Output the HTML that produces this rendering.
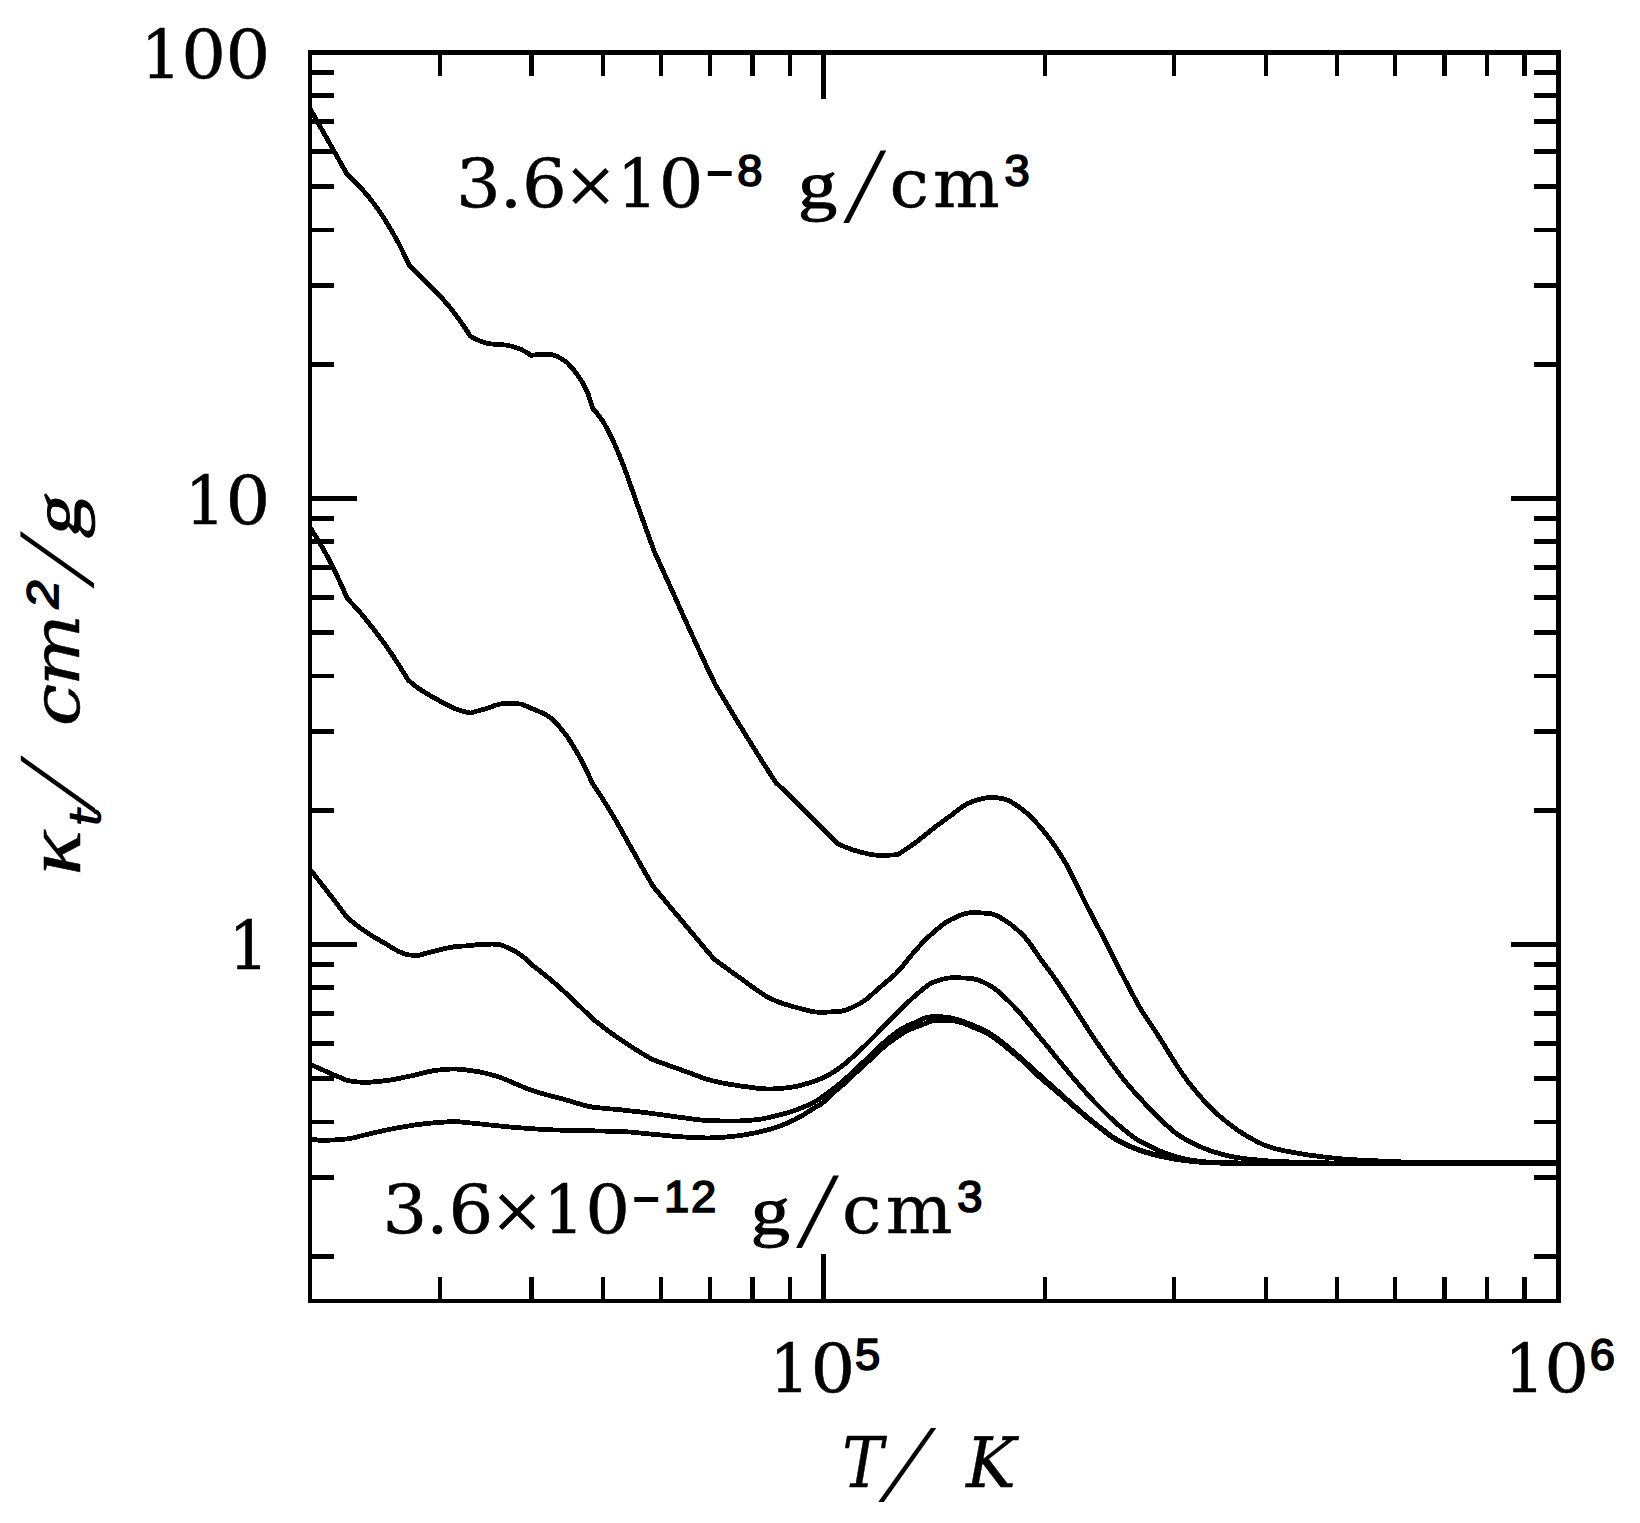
<!DOCTYPE html>
<html><head><meta charset="utf-8"><title>opacity</title>
<style>html,body{margin:0;padding:0;background:#fff}svg{display:block}text{fill:#000}</style></head>
<body><svg width="1640" height="1523" viewBox="0 0 1640 1523">
<rect width="1640" height="1523" fill="#fff"/>
<g stroke="#000" fill="none" stroke-linecap="butt" shape-rendering="crispEdges">
<line x1="308.10" y1="52.50" x2="1560.60" y2="52.50" stroke-width="4.4"/>
<line x1="308.10" y1="1300.70" x2="1560.60" y2="1300.70" stroke-width="4.3"/>
<line x1="310.20" y1="52.50" x2="310.20" y2="1300.70" stroke-width="4.2"/>
<line x1="1558.50" y1="52.50" x2="1558.50" y2="1300.70" stroke-width="4.5"/>
<line x1="439.76" y1="1300.70" x2="439.76" y2="1277.10" stroke-width="4.2"/>
<line x1="439.76" y1="52.50" x2="439.76" y2="76.10" stroke-width="4.2"/>
<line x1="531.51" y1="1300.70" x2="531.51" y2="1277.10" stroke-width="4.2"/>
<line x1="531.51" y1="52.50" x2="531.51" y2="76.10" stroke-width="4.2"/>
<line x1="602.68" y1="1300.70" x2="602.68" y2="1277.10" stroke-width="4.2"/>
<line x1="602.68" y1="52.50" x2="602.68" y2="76.10" stroke-width="4.2"/>
<line x1="660.83" y1="1300.70" x2="660.83" y2="1277.10" stroke-width="4.2"/>
<line x1="660.83" y1="52.50" x2="660.83" y2="76.10" stroke-width="4.2"/>
<line x1="710.00" y1="1300.70" x2="710.00" y2="1277.10" stroke-width="4.2"/>
<line x1="710.00" y1="52.50" x2="710.00" y2="76.10" stroke-width="4.2"/>
<line x1="752.59" y1="1300.70" x2="752.59" y2="1277.10" stroke-width="4.2"/>
<line x1="752.59" y1="52.50" x2="752.59" y2="76.10" stroke-width="4.2"/>
<line x1="790.16" y1="1300.70" x2="790.16" y2="1277.10" stroke-width="4.2"/>
<line x1="790.16" y1="52.50" x2="790.16" y2="76.10" stroke-width="4.2"/>
<line x1="823.76" y1="1300.70" x2="823.76" y2="1253.90" stroke-width="4.8"/>
<line x1="823.76" y1="52.50" x2="823.76" y2="99.30" stroke-width="4.8"/>
<line x1="1044.84" y1="1300.70" x2="1044.84" y2="1277.10" stroke-width="4.2"/>
<line x1="1044.84" y1="52.50" x2="1044.84" y2="76.10" stroke-width="4.2"/>
<line x1="1174.16" y1="1300.70" x2="1174.16" y2="1277.10" stroke-width="4.2"/>
<line x1="1174.16" y1="52.50" x2="1174.16" y2="76.10" stroke-width="4.2"/>
<line x1="1265.91" y1="1300.70" x2="1265.91" y2="1277.10" stroke-width="4.2"/>
<line x1="1265.91" y1="52.50" x2="1265.91" y2="76.10" stroke-width="4.2"/>
<line x1="1337.08" y1="1300.70" x2="1337.08" y2="1277.10" stroke-width="4.2"/>
<line x1="1337.08" y1="52.50" x2="1337.08" y2="76.10" stroke-width="4.2"/>
<line x1="1395.23" y1="1300.70" x2="1395.23" y2="1277.10" stroke-width="4.2"/>
<line x1="1395.23" y1="52.50" x2="1395.23" y2="76.10" stroke-width="4.2"/>
<line x1="1444.40" y1="1300.70" x2="1444.40" y2="1277.10" stroke-width="4.2"/>
<line x1="1444.40" y1="52.50" x2="1444.40" y2="76.10" stroke-width="4.2"/>
<line x1="1486.99" y1="1300.70" x2="1486.99" y2="1277.10" stroke-width="4.2"/>
<line x1="1486.99" y1="52.50" x2="1486.99" y2="76.10" stroke-width="4.2"/>
<line x1="1524.56" y1="1300.70" x2="1524.56" y2="1277.10" stroke-width="4.2"/>
<line x1="1524.56" y1="52.50" x2="1524.56" y2="76.10" stroke-width="4.2"/>
<line x1="310.20" y1="1256.19" x2="333.80" y2="1256.19" stroke-width="4.8"/>
<line x1="1558.50" y1="1256.19" x2="1534.10" y2="1256.19" stroke-width="4.8"/>
<line x1="310.20" y1="1177.65" x2="333.80" y2="1177.65" stroke-width="4.8"/>
<line x1="1558.50" y1="1177.65" x2="1534.10" y2="1177.65" stroke-width="4.8"/>
<line x1="310.20" y1="1121.93" x2="333.80" y2="1121.93" stroke-width="4.8"/>
<line x1="1558.50" y1="1121.93" x2="1534.10" y2="1121.93" stroke-width="4.8"/>
<line x1="310.20" y1="1078.71" x2="333.80" y2="1078.71" stroke-width="4.8"/>
<line x1="1558.50" y1="1078.71" x2="1534.10" y2="1078.71" stroke-width="4.8"/>
<line x1="310.20" y1="1043.39" x2="333.80" y2="1043.39" stroke-width="4.8"/>
<line x1="1558.50" y1="1043.39" x2="1534.10" y2="1043.39" stroke-width="4.8"/>
<line x1="310.20" y1="1013.54" x2="333.80" y2="1013.54" stroke-width="4.8"/>
<line x1="1558.50" y1="1013.54" x2="1534.10" y2="1013.54" stroke-width="4.8"/>
<line x1="310.20" y1="987.67" x2="333.80" y2="987.67" stroke-width="4.8"/>
<line x1="1558.50" y1="987.67" x2="1534.10" y2="987.67" stroke-width="4.8"/>
<line x1="310.20" y1="964.86" x2="333.80" y2="964.86" stroke-width="4.8"/>
<line x1="1558.50" y1="964.86" x2="1534.10" y2="964.86" stroke-width="4.8"/>
<line x1="310.20" y1="944.45" x2="357.00" y2="944.45" stroke-width="4.8"/>
<line x1="1558.50" y1="944.45" x2="1510.90" y2="944.45" stroke-width="4.8"/>
<line x1="310.20" y1="810.19" x2="333.80" y2="810.19" stroke-width="4.8"/>
<line x1="1558.50" y1="810.19" x2="1534.10" y2="810.19" stroke-width="4.8"/>
<line x1="310.20" y1="731.65" x2="333.80" y2="731.65" stroke-width="4.8"/>
<line x1="1558.50" y1="731.65" x2="1534.10" y2="731.65" stroke-width="4.8"/>
<line x1="310.20" y1="675.93" x2="333.80" y2="675.93" stroke-width="4.8"/>
<line x1="1558.50" y1="675.93" x2="1534.10" y2="675.93" stroke-width="4.8"/>
<line x1="310.20" y1="632.71" x2="333.80" y2="632.71" stroke-width="4.8"/>
<line x1="1558.50" y1="632.71" x2="1534.10" y2="632.71" stroke-width="4.8"/>
<line x1="310.20" y1="597.39" x2="333.80" y2="597.39" stroke-width="4.8"/>
<line x1="1558.50" y1="597.39" x2="1534.10" y2="597.39" stroke-width="4.8"/>
<line x1="310.20" y1="567.54" x2="333.80" y2="567.54" stroke-width="4.8"/>
<line x1="1558.50" y1="567.54" x2="1534.10" y2="567.54" stroke-width="4.8"/>
<line x1="310.20" y1="541.67" x2="333.80" y2="541.67" stroke-width="4.8"/>
<line x1="1558.50" y1="541.67" x2="1534.10" y2="541.67" stroke-width="4.8"/>
<line x1="310.20" y1="518.86" x2="333.80" y2="518.86" stroke-width="4.8"/>
<line x1="1558.50" y1="518.86" x2="1534.10" y2="518.86" stroke-width="4.8"/>
<line x1="310.20" y1="498.45" x2="357.00" y2="498.45" stroke-width="4.8"/>
<line x1="1558.50" y1="498.45" x2="1510.90" y2="498.45" stroke-width="4.8"/>
<line x1="310.20" y1="364.19" x2="333.80" y2="364.19" stroke-width="4.8"/>
<line x1="1558.50" y1="364.19" x2="1534.10" y2="364.19" stroke-width="4.8"/>
<line x1="310.20" y1="285.65" x2="333.80" y2="285.65" stroke-width="4.8"/>
<line x1="1558.50" y1="285.65" x2="1534.10" y2="285.65" stroke-width="4.8"/>
<line x1="310.20" y1="229.93" x2="333.80" y2="229.93" stroke-width="4.8"/>
<line x1="1558.50" y1="229.93" x2="1534.10" y2="229.93" stroke-width="4.8"/>
<line x1="310.20" y1="186.71" x2="333.80" y2="186.71" stroke-width="4.8"/>
<line x1="1558.50" y1="186.71" x2="1534.10" y2="186.71" stroke-width="4.8"/>
<line x1="310.20" y1="151.39" x2="333.80" y2="151.39" stroke-width="4.8"/>
<line x1="1558.50" y1="151.39" x2="1534.10" y2="151.39" stroke-width="4.8"/>
<line x1="310.20" y1="121.54" x2="333.80" y2="121.54" stroke-width="4.8"/>
<line x1="1558.50" y1="121.54" x2="1534.10" y2="121.54" stroke-width="4.8"/>
<line x1="310.20" y1="95.67" x2="333.80" y2="95.67" stroke-width="4.8"/>
<line x1="1558.50" y1="95.67" x2="1534.10" y2="95.67" stroke-width="4.8"/>
<line x1="310.20" y1="72.86" x2="333.80" y2="72.86" stroke-width="4.8"/>
<line x1="1558.50" y1="72.86" x2="1534.10" y2="72.86" stroke-width="4.8"/>
</g>
<g stroke="#000" fill="none" stroke-width="4.8" stroke-linejoin="round" stroke-linecap="butt" shape-rendering="crispEdges">
<polyline points="310.2,108.9 347.3,174.7 352.5,179.3 357.6,184.4 362.8,190.1 368.0,196.1 373.1,202.6 378.3,209.6 383.5,217.4 388.6,225.7 393.8,234.6 399.0,244.0 404.1,254.3 409.3,265.3 414.4,270.3 419.5,275.4 424.6,280.5 429.7,285.7 434.8,290.8 439.9,296.0 444.9,301.5 450.0,307.5 455.1,314.1 460.2,321.0 465.3,328.4 470.4,336.2 475.5,338.9 480.5,341.2 485.6,342.9 490.6,343.9 495.7,344.3 500.8,344.5 505.8,345.1 510.9,346.1 515.9,347.6 521.0,349.4 526.0,352.0 531.1,355.4 536.2,354.7 541.4,354.4 546.5,354.3 551.7,354.5 556.9,356.3 562.0,359.1 567.1,362.6 572.3,368.1 577.5,375.0 582.6,382.6 587.8,392.9 592.9,408.8 598.0,414.5 603.1,421.6 608.1,430.4 613.2,441.0 618.3,452.8 623.4,465.3 628.5,479.3 633.6,494.0 638.6,508.2 643.7,522.3 648.8,536.4 653.9,550.6 659.0,561.8 664.1,573.1 669.2,584.3 674.3,595.6 679.4,607.0 684.5,618.5 689.7,629.8 694.8,640.9 699.9,651.9 705.0,662.9 710.1,673.7 715.2,684.4 720.2,692.9 725.3,701.4 730.3,709.7 735.3,718.1 740.4,726.3 745.4,734.5 750.4,742.6 755.5,750.7 760.5,758.7 765.5,766.6 770.6,774.5 775.6,782.3 780.8,787.2 786.0,792.2 791.1,797.2 796.3,802.3 801.5,807.3 806.7,812.5 811.8,817.6 817.0,822.8 822.2,828.0 827.4,833.2 832.5,838.5 837.7,843.8 842.7,846.0 847.7,848.0 852.7,849.8 857.7,851.3 862.7,852.6 867.7,853.8 872.7,854.8 877.7,855.3 882.7,855.3 887.7,855.2 892.7,855.0 897.7,854.5 902.7,851.4 907.7,848.1 912.7,844.6 917.7,841.0 922.7,837.0 927.7,832.9 932.7,828.9 937.7,825.1 942.7,821.5 947.7,817.8 952.7,814.2 957.6,810.2 962.6,806.5 967.6,803.5 972.6,801.5 977.6,799.8 982.6,798.6 987.6,797.6 992.6,797.5 997.6,797.9 1002.6,798.7 1007.6,800.1 1012.6,802.8 1017.6,806.0 1022.6,809.7 1027.6,813.8 1032.6,818.6 1037.6,824.1 1042.7,830.0 1047.7,836.2 1052.7,843.0 1057.7,850.4 1062.7,858.2 1067.7,866.8 1072.7,876.6 1077.7,887.0 1082.7,897.4 1087.7,907.3 1092.7,917.0 1097.7,926.5 1102.8,936.1 1107.8,945.9 1112.8,955.9 1117.8,965.9 1122.8,975.7 1127.8,985.3 1132.8,994.8 1137.8,1004.0 1142.8,1012.4 1147.8,1020.1 1152.8,1027.6 1157.8,1035.1 1162.9,1043.1 1167.9,1051.2 1172.9,1059.3 1177.9,1067.0 1182.9,1074.5 1187.9,1081.4 1192.9,1087.8 1197.9,1093.8 1202.9,1099.6 1207.9,1104.9 1212.9,1109.9 1217.9,1114.6 1223.0,1119.0 1228.0,1123.0 1233.0,1126.8 1238.0,1130.4 1243.0,1133.7 1248.0,1136.7 1253.0,1139.5 1258.0,1142.1 1263.0,1144.5 1268.0,1146.5 1273.0,1148.1 1278.0,1149.4 1283.0,1150.5 1288.1,1151.5 1293.1,1152.4 1298.1,1153.3 1303.1,1154.1 1308.1,1154.9 1313.1,1155.6 1318.1,1156.2 1323.1,1156.9 1328.1,1157.4 1333.1,1158.0 1338.1,1158.5 1343.1,1159.0 1348.2,1159.4 1353.2,1159.7 1358.2,1160.0 1363.2,1160.3 1368.2,1160.5 1373.2,1160.7 1378.2,1160.9 1383.2,1161.2 1388.2,1161.4 1393.2,1161.6 1398.2,1161.8 1403.2,1162.0 1408.3,1162.1 1413.3,1162.2 1418.3,1162.3 1423.3,1162.3 1428.3,1162.3 1433.3,1162.3 1438.3,1162.4 1443.3,1162.4 1448.3,1162.4 1453.3,1162.4 1458.3,1162.4 1463.3,1162.4 1468.4,1162.4 1473.4,1162.4 1478.4,1162.4 1483.4,1162.4 1488.4,1162.5 1493.4,1162.5 1498.4,1162.5 1503.4,1162.5 1508.4,1162.5 1513.4,1162.5 1518.4,1162.5 1523.4,1162.5 1528.5,1162.5 1533.5,1162.5 1538.5,1162.5 1543.5,1162.5 1548.5,1162.5 1553.5,1162.5 1558.5,1162.5"/>
<polyline points="310.2,527.8 315.5,535.9 320.8,544.7 326.1,554.1 331.4,564.2 336.7,575.0 342.0,586.4 347.3,598.5 352.4,603.9 357.5,609.5 362.6,615.4 367.6,621.6 372.7,628.0 377.8,634.6 382.9,641.4 388.0,648.6 393.1,656.1 398.1,663.9 403.2,671.9 408.3,680.2 413.5,684.5 418.6,688.4 423.8,691.8 429.0,694.9 434.2,697.9 439.4,700.7 444.5,703.6 449.7,706.3 454.9,708.5 460.0,710.3 465.2,711.9 470.4,713.1 475.5,711.6 480.6,710.1 485.7,708.7 490.8,707.0 495.8,705.2 500.9,703.9 506.0,703.5 511.1,703.5 516.2,703.5 521.3,704.2 526.4,706.2 531.5,708.4 536.5,710.4 541.6,712.6 546.7,715.2 551.8,718.7 556.9,723.8 562.0,729.9 567.1,736.5 572.1,744.2 577.2,752.7 582.3,762.1 587.4,772.3 592.5,783.5 597.5,791.0 602.6,798.8 607.6,806.8 612.6,815.1 617.7,823.8 622.7,832.8 627.7,841.8 632.8,850.8 637.8,859.6 642.8,868.5 647.9,877.3 652.9,886.1 658.0,892.2 663.1,898.3 668.1,904.4 673.2,910.5 678.3,916.6 683.4,922.7 688.5,928.8 693.6,934.8 698.6,940.8 703.7,946.9 708.8,952.9 713.9,958.9 718.8,962.6 723.8,966.2 728.7,969.8 733.6,973.4 738.6,976.9 743.5,980.4 748.4,984.0 753.3,987.6 758.3,991.1 763.2,994.4 768.1,997.3 773.1,999.7 778.0,1001.8 782.8,1003.5 787.7,1005.0 792.5,1006.5 797.4,1007.7 802.2,1009.0 807.1,1010.4 811.9,1011.5 816.8,1012.1 821.6,1012.1 826.5,1012.1 831.3,1011.9 836.2,1011.7 841.0,1011.3 846.0,1009.9 851.0,1008.0 855.9,1005.6 860.9,1003.0 865.9,999.6 870.9,995.4 875.9,990.9 880.9,986.5 885.8,982.4 890.8,978.2 895.8,973.7 900.8,968.4 905.8,962.1 910.8,955.9 915.7,950.2 920.7,944.7 925.7,939.5 930.7,934.8 935.7,930.4 940.7,926.3 945.6,922.6 950.6,919.7 955.6,917.4 960.6,915.2 965.6,913.5 970.5,912.7 975.5,912.7 980.5,912.9 985.5,913.2 990.5,913.6 995.5,915.0 1000.4,917.6 1005.4,920.8 1010.4,924.1 1015.4,928.1 1020.4,932.7 1025.4,937.8 1030.3,944.0 1035.3,951.4 1040.3,958.6 1045.3,965.4 1050.3,972.1 1055.3,979.0 1060.2,986.2 1065.2,993.8 1070.2,1001.5 1075.2,1009.2 1080.2,1016.9 1085.1,1024.6 1090.1,1032.3 1095.1,1039.8 1100.1,1047.1 1105.1,1054.3 1110.1,1061.3 1115.0,1068.1 1120.0,1074.8 1125.0,1081.1 1130.0,1087.1 1135.0,1092.7 1140.0,1098.1 1144.9,1103.5 1149.9,1108.7 1154.9,1113.9 1159.9,1118.8 1164.9,1123.6 1169.9,1128.2 1174.8,1132.4 1179.8,1135.9 1184.8,1139.0 1189.8,1141.8 1194.8,1144.3 1199.8,1146.6 1204.7,1148.6 1209.7,1150.5 1214.7,1152.1 1219.7,1153.6 1224.7,1154.9 1229.6,1156.1 1234.6,1157.1 1239.6,1157.9 1244.6,1158.6 1249.6,1159.2 1254.6,1159.7 1259.5,1160.2 1264.5,1160.6 1269.5,1161.0 1274.5,1161.3 1279.5,1161.5 1284.5,1161.7 1289.4,1161.9 1294.4,1162.1 1299.4,1162.2 1304.4,1162.4 1309.4,1162.5 1314.4,1162.6 1319.3,1162.7 1324.3,1162.8 1329.3,1162.9 1334.3,1162.9 1339.3,1162.9 1344.2,1162.9 1349.2,1162.9 1354.2,1162.9 1359.2,1162.9 1364.2,1162.9 1369.2,1162.9 1374.1,1162.9 1379.1,1162.9 1384.1,1162.9 1389.1,1163.0 1394.1,1163.0 1399.1,1163.0 1404.0,1163.0 1409.0,1163.0 1414.0,1163.0 1419.0,1163.0 1424.0,1163.0 1429.0,1163.0 1433.9,1163.0 1438.9,1163.0 1443.9,1163.0 1448.9,1163.0 1453.9,1163.0 1458.8,1163.0 1463.8,1163.0 1468.8,1163.0 1473.8,1163.0 1478.8,1163.0 1483.8,1163.0 1488.7,1163.0 1493.7,1163.0 1498.7,1163.0 1503.7,1163.0 1508.7,1163.0 1513.7,1163.0 1518.6,1163.0 1523.6,1163.0 1528.6,1163.0 1533.6,1163.0 1538.6,1163.0 1543.6,1163.0 1548.5,1163.0 1553.5,1163.0 1558.5,1163.0"/>
<polyline points="310.2,869.7 315.5,876.3 320.8,883.0 326.1,889.8 331.4,896.7 336.7,903.6 342.0,910.7 347.3,917.8 352.4,921.9 357.5,925.9 362.7,929.6 367.8,933.1 372.9,936.4 378.0,939.4 383.1,942.3 388.3,945.3 393.4,948.6 398.5,951.4 403.6,953.5 408.8,955.0 413.9,955.3 419.0,955.4 424.2,953.8 429.5,952.4 434.7,951.1 440.0,949.8 445.2,948.5 450.4,947.4 455.7,946.6 460.9,946.2 466.2,945.9 471.4,945.8 476.6,944.5 481.8,944.3 486.9,944.2 492.1,944.1 497.3,944.2 502.4,945.4 507.6,947.6 512.8,950.0 518.0,953.0 523.1,956.7 528.3,961.2 533.5,966.2 538.4,969.9 543.3,973.7 548.2,977.7 553.1,981.8 558.0,986.1 562.9,990.5 567.8,995.0 572.7,999.7 577.6,1004.3 582.5,1009.0 587.4,1013.7 592.3,1018.5 597.3,1022.5 602.4,1026.4 607.4,1030.3 612.5,1034.0 617.5,1037.5 622.6,1041.0 627.6,1044.3 632.7,1047.6 637.8,1050.8 642.8,1053.9 647.9,1056.8 652.9,1059.7 657.9,1061.5 662.9,1063.3 667.9,1065.2 672.9,1066.9 677.9,1068.7 682.9,1070.5 687.9,1072.3 692.9,1074.2 697.9,1076.1 702.9,1077.9 707.9,1079.5 712.9,1080.9 717.9,1082.0 722.9,1083.1 727.9,1084.0 733.0,1084.8 738.0,1085.6 743.0,1086.3 748.0,1087.0 753.0,1087.7 758.0,1088.3 763.0,1088.8 768.0,1089.0 773.0,1088.9 778.0,1088.6 783.0,1088.2 788.0,1087.7 793.0,1087.0 798.0,1086.0 803.0,1084.7 808.0,1083.2 813.0,1081.7 818.0,1079.8 823.0,1077.7 828.0,1075.3 833.0,1072.4 838.0,1069.0 843.0,1065.3 848.0,1061.2 853.0,1056.7 858.0,1052.1 863.0,1047.4 868.0,1042.6 873.0,1037.5 878.0,1032.4 883.1,1027.2 888.1,1022.1 893.1,1017.1 898.1,1012.1 903.1,1007.0 908.1,1002.2 913.1,997.5 918.1,993.2 923.1,989.0 928.1,985.0 933.1,982.3 938.1,980.5 943.1,979.1 948.1,978.1 953.1,977.7 958.1,977.8 963.1,978.0 968.1,978.2 973.1,978.7 978.1,980.0 983.1,982.1 988.1,984.6 993.1,987.5 998.1,991.4 1003.1,995.9 1008.1,1000.7 1013.1,1005.6 1018.1,1011.0 1023.1,1016.8 1028.1,1022.9 1033.2,1029.1 1038.2,1035.3 1043.2,1041.3 1048.2,1047.4 1053.2,1053.6 1058.2,1059.7 1063.2,1065.8 1068.2,1071.9 1073.2,1077.9 1078.2,1083.7 1083.2,1089.5 1088.2,1095.1 1093.2,1100.6 1098.2,1105.8 1103.2,1110.8 1108.2,1115.7 1113.2,1120.4 1118.2,1124.8 1123.2,1129.0 1128.2,1133.2 1133.2,1137.0 1138.2,1140.3 1143.2,1143.0 1148.2,1145.4 1153.2,1147.9 1158.2,1150.3 1163.2,1152.3 1168.2,1154.2 1173.2,1155.9 1178.2,1157.3 1183.3,1158.5 1188.3,1159.6 1193.3,1160.5 1198.3,1161.1 1203.3,1161.7 1208.3,1162.1 1213.3,1162.4 1218.3,1162.7 1223.3,1162.8 1228.3,1163.0 1233.3,1163.1 1238.3,1163.1 1243.3,1163.2 1248.3,1163.2 1253.3,1163.2 1258.3,1163.2 1263.3,1163.3 1268.3,1163.3 1273.3,1163.3 1278.3,1163.3 1283.3,1163.3 1288.3,1163.3 1293.3,1163.3 1298.3,1163.3 1303.3,1163.3 1308.3,1163.3 1313.3,1163.3 1318.3,1163.3 1323.3,1163.3 1328.3,1163.3 1333.4,1163.3 1338.4,1163.3 1343.4,1163.3 1348.4,1163.3 1353.4,1163.3 1358.4,1163.3 1363.4,1163.3 1368.4,1163.3 1373.4,1163.3 1378.4,1163.3 1383.4,1163.3 1388.4,1163.3 1393.4,1163.3 1398.4,1163.3 1403.4,1163.3 1408.4,1163.3 1413.4,1163.3 1418.4,1163.3 1423.4,1163.3 1428.4,1163.3 1433.4,1163.3 1438.4,1163.3 1443.4,1163.3 1448.4,1163.3 1453.4,1163.3 1458.4,1163.3 1463.4,1163.3 1468.4,1163.3 1473.4,1163.3 1478.4,1163.3 1483.5,1163.3 1488.5,1163.3 1493.5,1163.3 1498.5,1163.3 1503.5,1163.3 1508.5,1163.3 1513.5,1163.3 1518.5,1163.3 1523.5,1163.3 1528.5,1163.3 1533.5,1163.3 1538.5,1163.3 1543.5,1163.3 1548.5,1163.3 1553.5,1163.3 1558.5,1163.3"/>
<polyline points="310.2,1064.2 315.5,1066.7 320.8,1069.1 326.1,1071.5 331.4,1073.8 336.7,1076.1 342.0,1078.3 347.3,1080.5 352.3,1081.3 357.3,1081.9 362.3,1082.3 367.3,1082.3 372.3,1082.0 377.3,1081.6 382.3,1081.0 387.3,1080.4 392.3,1079.7 397.3,1078.7 402.4,1077.7 407.4,1076.6 412.4,1075.6 417.4,1074.4 422.4,1073.1 427.4,1071.9 432.4,1070.9 437.4,1070.2 442.4,1069.7 447.4,1069.2 452.4,1069.0 457.4,1069.1 462.4,1069.5 467.4,1070.1 472.4,1070.8 477.4,1071.5 482.4,1072.5 487.4,1073.7 492.4,1075.0 497.4,1076.4 502.5,1078.3 507.5,1080.3 512.5,1082.5 517.5,1084.6 522.5,1086.7 527.5,1088.8 532.5,1090.6 537.5,1092.2 542.5,1093.7 547.5,1095.0 552.5,1096.3 557.5,1097.6 562.5,1098.9 567.5,1100.3 572.5,1101.8 577.5,1103.4 582.5,1104.8 587.5,1106.1 592.5,1107.1 597.5,1107.7 602.6,1108.2 607.6,1108.7 612.6,1109.1 617.6,1109.5 622.6,1110.0 627.6,1110.6 632.6,1111.2 637.6,1111.7 642.6,1112.3 647.6,1112.9 652.6,1113.6 657.6,1114.2 662.6,1114.9 667.6,1115.6 672.6,1116.3 677.6,1117.0 682.6,1117.6 687.6,1118.3 692.6,1119.0 697.6,1119.6 702.7,1120.2 707.7,1120.5 712.7,1120.7 717.7,1120.8 722.7,1121.0 727.7,1121.1 732.7,1121.1 737.7,1121.0 742.7,1120.8 747.7,1120.5 752.7,1120.0 757.7,1119.6 762.7,1118.8 767.7,1117.8 772.7,1116.6 777.7,1115.4 782.7,1114.1 787.7,1112.7 792.7,1111.1 797.7,1109.3 802.8,1107.4 807.8,1105.2 812.8,1102.8 817.8,1100.0 822.8,1096.4 827.8,1092.9 832.8,1089.3 837.8,1085.3 842.8,1081.0 847.8,1076.6 852.8,1072.1 857.8,1067.4 862.8,1062.6 867.8,1057.8 872.8,1053.1 877.8,1048.4 882.8,1043.5 887.8,1039.0 892.8,1035.0 897.8,1031.4 902.9,1028.2 907.9,1025.4 912.9,1023.4 917.9,1021.4 922.9,1018.8 927.9,1017.2 932.9,1016.6 937.9,1016.6 942.9,1016.9 947.9,1017.5 952.9,1018.3 957.9,1019.7 962.9,1021.4 967.9,1023.2 972.9,1025.2 977.9,1027.3 982.9,1029.6 987.9,1032.2 992.9,1035.4 997.9,1039.0 1002.9,1042.8 1008.0,1047.0 1013.0,1051.2 1018.0,1055.5 1023.0,1059.9 1028.0,1064.3 1033.0,1068.8 1038.0,1073.4 1043.0,1077.9 1048.0,1082.4 1053.0,1086.8 1058.0,1091.3 1063.0,1095.8 1068.0,1100.3 1073.0,1104.7 1078.0,1109.1 1083.0,1113.4 1088.0,1117.6 1093.0,1121.7 1098.0,1125.7 1103.0,1129.6 1108.1,1133.5 1113.1,1137.2 1118.1,1140.3 1123.1,1142.9 1128.1,1145.3 1133.1,1147.4 1138.1,1149.3 1143.1,1151.0 1148.1,1152.5 1153.1,1153.9 1158.1,1155.2 1163.1,1156.3 1168.1,1157.4 1173.1,1158.3 1178.1,1159.1 1183.1,1159.8 1188.1,1160.4 1193.1,1161.0 1198.1,1161.4 1203.1,1161.8 1208.2,1162.1 1213.2,1162.4 1218.2,1162.5 1223.2,1162.7 1228.2,1162.8 1233.2,1162.8 1238.2,1162.9 1243.2,1163.0 1248.2,1163.1 1253.2,1163.1 1258.2,1163.2 1263.2,1163.2 1268.2,1163.3 1273.2,1163.3 1278.2,1163.3 1283.2,1163.3 1288.2,1163.3 1293.2,1163.3 1298.2,1163.3 1303.2,1163.4 1308.3,1163.4 1313.3,1163.4 1318.3,1163.4 1323.3,1163.4 1328.3,1163.4 1333.3,1163.4 1338.3,1163.4 1343.3,1163.4 1348.3,1163.4 1353.3,1163.4 1358.3,1163.5 1363.3,1163.5 1368.3,1163.5 1373.3,1163.5 1378.3,1163.5 1383.3,1163.5 1388.3,1163.5 1393.3,1163.5 1398.3,1163.5 1403.3,1163.5 1408.4,1163.5 1413.4,1163.5 1418.4,1163.5 1423.4,1163.5 1428.4,1163.5 1433.4,1163.5 1438.4,1163.6 1443.4,1163.6 1448.4,1163.6 1453.4,1163.6 1458.4,1163.6 1463.4,1163.6 1468.4,1163.6 1473.4,1163.6 1478.4,1163.6 1483.4,1163.6 1488.4,1163.6 1493.4,1163.6 1498.4,1163.6 1503.4,1163.6 1508.5,1163.6 1513.5,1163.6 1518.5,1163.6 1523.5,1163.6 1528.5,1163.6 1533.5,1163.6 1538.5,1163.6 1543.5,1163.6 1548.5,1163.6 1553.5,1163.6 1558.5,1163.6"/>
<polyline points="310.2,1138.9 315.2,1139.7 320.2,1140.3 325.2,1140.3 330.2,1140.1 335.2,1139.9 340.2,1139.5 345.2,1139.1 350.1,1138.5 355.1,1137.5 360.1,1136.1 365.1,1134.9 370.1,1133.7 375.1,1132.5 380.1,1131.4 385.1,1130.3 390.1,1129.3 395.1,1128.3 400.1,1127.4 405.1,1126.5 410.1,1125.7 415.1,1124.9 420.1,1124.3 425.0,1123.7 430.0,1123.2 435.0,1122.7 440.0,1122.4 445.0,1122.0 450.0,1121.8 455.0,1121.7 460.0,1121.9 465.0,1122.4 470.0,1122.9 475.0,1123.5 480.0,1123.9 485.0,1124.4 490.0,1125.0 494.9,1125.5 499.9,1126.0 504.9,1126.6 509.9,1127.0 514.9,1127.5 519.9,1127.8 524.9,1128.2 529.9,1128.6 534.9,1128.9 539.9,1129.2 544.9,1129.5 549.9,1129.8 554.9,1130.0 559.9,1130.1 564.9,1130.3 569.8,1130.4 574.8,1130.5 579.8,1130.6 584.8,1130.7 589.8,1130.8 594.8,1130.9 599.8,1131.0 604.8,1131.1 609.8,1131.2 614.8,1131.3 619.8,1131.4 624.8,1131.7 629.8,1132.0 634.8,1132.5 639.8,1133.0 644.7,1133.5 649.7,1134.0 654.7,1134.5 659.7,1134.9 664.7,1135.4 669.7,1135.9 674.7,1136.4 679.7,1136.7 684.7,1137.0 689.7,1137.3 694.7,1137.5 699.7,1137.7 704.7,1137.9 709.7,1137.9 714.6,1137.7 719.6,1137.5 724.6,1137.1 729.6,1136.7 734.6,1136.2 739.6,1135.6 744.6,1134.8 749.6,1133.9 754.6,1133.0 759.6,1131.9 764.6,1130.7 769.6,1129.3 774.6,1127.8 779.6,1126.1 784.6,1124.2 789.5,1122.0 794.5,1119.7 799.5,1117.1 804.5,1114.2 809.5,1111.0 814.5,1107.8 819.5,1105.0 824.5,1101.6 829.5,1096.8 834.5,1091.9 839.5,1087.7 844.5,1083.5 849.5,1078.7 854.5,1073.9 859.5,1069.5 864.4,1065.0 869.4,1060.3 874.4,1055.6 879.4,1050.9 884.4,1046.4 889.4,1042.5 894.4,1039.0 899.4,1035.6 904.4,1032.3 909.4,1029.7 914.4,1027.7 919.4,1025.9 924.4,1023.8 929.4,1021.8 934.3,1020.4 939.3,1020.4 944.3,1020.4 949.3,1020.4 954.3,1020.8 959.3,1022.0 964.3,1023.4 969.3,1025.5 974.3,1027.7 979.3,1029.7 984.3,1031.9 989.3,1034.6 994.3,1038.1 999.3,1041.8 1004.3,1045.6 1009.2,1049.7 1014.2,1053.8 1019.2,1058.0 1024.2,1062.4 1029.2,1067.2 1034.2,1072.0 1039.2,1076.8 1044.2,1081.2 1049.2,1085.4 1054.2,1089.6 1059.2,1093.8 1064.2,1098.1 1069.2,1102.5 1074.2,1106.8 1079.2,1111.0 1084.1,1115.2 1089.1,1119.4 1094.1,1123.4 1099.1,1127.3 1104.1,1131.2 1109.1,1135.0 1114.1,1138.5 1119.1,1141.5 1124.1,1144.0 1129.1,1146.3 1134.1,1148.4 1139.1,1150.2 1144.1,1151.9 1149.1,1153.4 1154.1,1154.8 1159.0,1156.0 1164.0,1157.1 1169.0,1158.1 1174.0,1159.0 1179.0,1159.8 1184.0,1160.5 1189.0,1161.1 1194.0,1161.7 1199.0,1162.1 1204.0,1162.4 1209.0,1162.7 1214.0,1162.9 1219.0,1163.1 1224.0,1163.2 1228.9,1163.3 1233.9,1163.4 1238.9,1163.4 1243.9,1163.5 1248.9,1163.6 1253.9,1163.6 1258.9,1163.7 1263.9,1163.7 1268.9,1163.8 1273.9,1163.8 1278.9,1163.8 1283.9,1163.8 1288.9,1163.8 1293.9,1163.8 1298.9,1163.8 1303.8,1163.8 1308.8,1163.8 1313.8,1163.9 1318.8,1163.9 1323.8,1163.9 1328.8,1163.9 1333.8,1163.9 1338.8,1163.9 1343.8,1163.9 1348.8,1163.9 1353.8,1163.9 1358.8,1163.9 1363.8,1163.9 1368.8,1163.9 1373.8,1163.9 1378.7,1163.9 1383.7,1163.9 1388.7,1163.9 1393.7,1163.9 1398.7,1163.9 1403.7,1163.9 1408.7,1164.0 1413.7,1164.0 1418.7,1164.0 1423.7,1164.0 1428.7,1164.0 1433.7,1164.0 1438.7,1164.0 1443.7,1164.0 1448.6,1164.0 1453.6,1164.0 1458.6,1164.0 1463.6,1164.0 1468.6,1164.0 1473.6,1164.0 1478.6,1164.0 1483.6,1164.0 1488.6,1164.0 1493.6,1164.0 1498.6,1164.0 1503.6,1164.0 1508.6,1164.0 1513.6,1164.0 1518.6,1164.0 1523.5,1164.0 1528.5,1164.0 1533.5,1164.0 1538.5,1164.0 1543.5,1164.0 1548.5,1164.0 1553.5,1164.0 1558.5,1164.0"/>
</g>
<text transform="scale(1.04,1)"><tspan font-family="'DejaVu Serif Condensed', serif" font-style="normal" font-weight="normal" font-size="67.70" x="135.69" y="77.60" stroke="#000" stroke-width="0.5">1</tspan><tspan font-family="'DejaVu Serif', serif" font-style="normal" font-weight="normal" font-size="67.70" x="174.20 216.80" y="77.60" stroke="#000" stroke-width="0.5">00</tspan></text>
<text transform="scale(1.04,1)"><tspan font-family="'DejaVu Serif Condensed', serif" font-style="normal" font-weight="normal" font-size="67.70" x="177.91" y="523.60" stroke="#000" stroke-width="0.5">1</tspan><tspan font-family="'DejaVu Serif', serif" font-style="normal" font-weight="normal" font-size="67.70" x="216.89" y="523.60" stroke="#000" stroke-width="0.5">0</tspan></text>
<text transform="scale(1.04,1)"><tspan font-family="'DejaVu Serif Condensed', serif" font-style="normal" font-weight="normal" font-size="67.70" x="219.73" y="969.50" stroke="#000" stroke-width="0.5">1</tspan></text>
<text transform="scale(1.04,1)"><tspan font-family="'DejaVu Serif Condensed', serif" font-style="normal" font-weight="normal" font-size="67.70" x="739.83" y="1391.80" stroke="#000" stroke-width="0.5">1</tspan><tspan font-family="'DejaVu Serif', serif" font-style="normal" font-weight="normal" font-size="67.70" x="779.39" y="1391.80" stroke="#000" stroke-width="0.5">0</tspan><tspan font-family="'Liberation Sans', sans-serif" font-style="normal" font-weight="normal" font-size="43.60" x="822.10" y="1369.90" stroke="#000" stroke-width="1.7">5</tspan></text>
<text transform="scale(1.04,1)"><tspan font-family="'DejaVu Serif Condensed', serif" font-style="normal" font-weight="normal" font-size="67.70" x="1446.61" y="1391.80" stroke="#000" stroke-width="0.5">1</tspan><tspan font-family="'DejaVu Serif', serif" font-style="normal" font-weight="normal" font-size="67.70" x="1484.78" y="1391.80" stroke="#000" stroke-width="0.5">0</tspan><tspan font-family="'Liberation Sans', sans-serif" font-style="normal" font-weight="normal" font-size="43.60" x="1528.59" y="1369.90" stroke="#000" stroke-width="1.7">6</tspan></text>
<text transform="scale(1.04,1)"><tspan font-family="'DejaVu Serif', serif" font-style="normal" font-weight="normal" font-size="67.70" x="438.40 480.62 501.94" y="207.00" stroke="#000" stroke-width="0.5">3.6</tspan><tspan font-family="'DejaVu Serif', serif" font-style="normal" font-weight="normal" font-size="62.60" x="541.50" y="205.90">×</tspan><tspan font-family="'DejaVu Serif Condensed', serif" font-style="normal" font-weight="normal" font-size="67.70" x="593.58" y="207.00" stroke="#000" stroke-width="0.5">1</tspan><tspan font-family="'DejaVu Serif', serif" font-style="normal" font-weight="normal" font-size="67.70" x="633.38" y="207.00" stroke="#000" stroke-width="0.5">0</tspan><tspan font-family="'Liberation Sans', sans-serif" font-style="normal" font-weight="normal" font-size="43.60" x="679.33" y="188.00" stroke="#000" stroke-width="1.7">−</tspan><tspan font-family="'Liberation Sans', sans-serif" font-style="normal" font-weight="normal" font-size="43.60" x="708.93" y="185.90" stroke="#000" stroke-width="1.7">8</tspan></text>
<text transform="scale(1.147,1)"><tspan font-family="'Liberation Serif', serif" font-style="normal" font-weight="normal" font-size="68.30" x="695.75" y="208.40" stroke="#000" stroke-width="1.0">g</tspan></text>
<text transform=" translate(843.40,222.60) skewX(0.15) scale(0.995,1)" font-family="'Liberation Serif', serif" font-style="italic" font-size="108.53" x="4.98" y="-1.06">/</text>
<text transform="scale(1.04,1)"><tspan font-family="'DejaVu Serif', serif" font-style="normal" font-weight="normal" font-size="67.70" x="855.19 897.17" y="207.30" stroke="#000" stroke-width="0.5">cm</tspan><tspan font-family="'Liberation Sans', sans-serif" font-style="normal" font-weight="normal" font-size="43.60" x="965.94" y="186.30" stroke="#000" stroke-width="1.7">3</tspan></text>
<text transform="scale(1.04,1)"><tspan font-family="'DejaVu Serif', serif" font-style="normal" font-weight="normal" font-size="67.70" x="367.72 409.94 431.26" y="1232.90" stroke="#000" stroke-width="0.5">3.6</tspan><tspan font-family="'DejaVu Serif', serif" font-style="normal" font-weight="normal" font-size="62.60" x="470.83" y="1231.80">×</tspan><tspan font-family="'DejaVu Serif Condensed', serif" font-style="normal" font-weight="normal" font-size="67.70" x="522.91" y="1232.90" stroke="#000" stroke-width="0.5">1</tspan><tspan font-family="'DejaVu Serif', serif" font-style="normal" font-weight="normal" font-size="67.70" x="562.71" y="1232.90" stroke="#000" stroke-width="0.5">0</tspan><tspan font-family="'Liberation Sans', sans-serif" font-style="normal" font-weight="normal" font-size="43.60" x="608.65" y="1213.90" stroke="#000" stroke-width="1.7">−</tspan><tspan font-family="'Liberation Sans', sans-serif" font-style="normal" font-weight="normal" font-size="43.60" x="638.53 664.46" y="1211.80" stroke="#000" stroke-width="1.7">12</tspan></text>
<text transform="scale(1.147,1)"><tspan font-family="'Liberation Serif', serif" font-style="normal" font-weight="normal" font-size="68.30" x="654.43" y="1234.30" stroke="#000" stroke-width="1.0">g</tspan></text>
<text transform=" translate(796.00,1248.50) skewX(0.15) scale(0.995,1)" font-family="'Liberation Serif', serif" font-style="italic" font-size="108.53" x="4.98" y="-1.06">/</text>
<text transform="scale(1.04,1)"><tspan font-family="'DejaVu Serif', serif" font-style="normal" font-weight="normal" font-size="67.70" x="809.61 851.59" y="1233.20" stroke="#000" stroke-width="0.5">cm</tspan><tspan font-family="'Liberation Sans', sans-serif" font-style="normal" font-weight="normal" font-size="43.60" x="920.36" y="1212.20" stroke="#000" stroke-width="1.7">3</tspan></text>
<text transform="scale(0.88,1)"><tspan font-family="'DejaVu Serif', serif" font-style="italic" font-weight="normal" font-size="69.68" x="957.02" y="1486.80" stroke="#000" stroke-width="0.5">T</tspan></text>
<text transform=" translate(878.20,1501.90) skewX(-12.97) scale(0.926,1)" font-family="'Liberation Serif', serif" font-style="italic" font-size="110.62" x="5.08" y="-1.08">/</text>
<text transform="scale(0.95,1)"><tspan font-family="'DejaVu Serif', serif" font-style="italic" font-weight="normal" font-size="69.68" x="1017.18" y="1486.80" stroke="#000" stroke-width="0.5">K</tspan></text>
<text transform="rotate(-90) scale(1.2,1)"><tspan font-family="'Liberation Serif', serif" font-style="italic" font-weight="normal" font-size="77.50" x="-729.39" y="79.60" stroke="#000" stroke-width="0.5">κ</tspan></text>
<text transform="rotate(-90) scale(1.0,1)"><tspan font-family="'DejaVu Serif', serif" font-style="italic" font-weight="normal" font-size="43.66" x="-825.40" y="99.70" stroke="#000" stroke-width="1.5">t</tspan></text>
<text transform="rotate(-90) translate(-813.60,95.00) skewX(-13.22) scale(0.922,1)" font-family="'Liberation Serif', serif" font-style="italic" font-size="111.07" x="5.10" y="-1.08">/</text>
<text transform="rotate(-90) scale(1.15,1)"><tspan font-family="'DejaVu Serif', serif" font-style="italic" font-weight="normal" font-size="66.00" x="-631.43 -596.58" y="79.50" stroke="#000" stroke-width="0.5">cm</tspan><tspan font-family="'Liberation Sans', sans-serif" font-style="italic" font-weight="normal" font-size="43.60" x="-528.89" y="57.60" stroke="#000" stroke-width="1.7">2</tspan></text>
<text transform="rotate(-90) translate(-588.60,94.30) skewX(-12.82) scale(0.931,1)" font-family="'Liberation Serif', serif" font-style="italic" font-size="110.02" x="5.05" y="-1.07">/</text>
<text transform="rotate(-90) translate(-519.70,80.0) skewX(-12) scale(1.19,1)"><tspan font-family="'Liberation Serif', serif" font-style="normal" font-weight="normal" font-size="69.00" x="-16.23" y="0.00" stroke="#000" stroke-width="1.0">g</tspan></text>
</svg></body></html>
